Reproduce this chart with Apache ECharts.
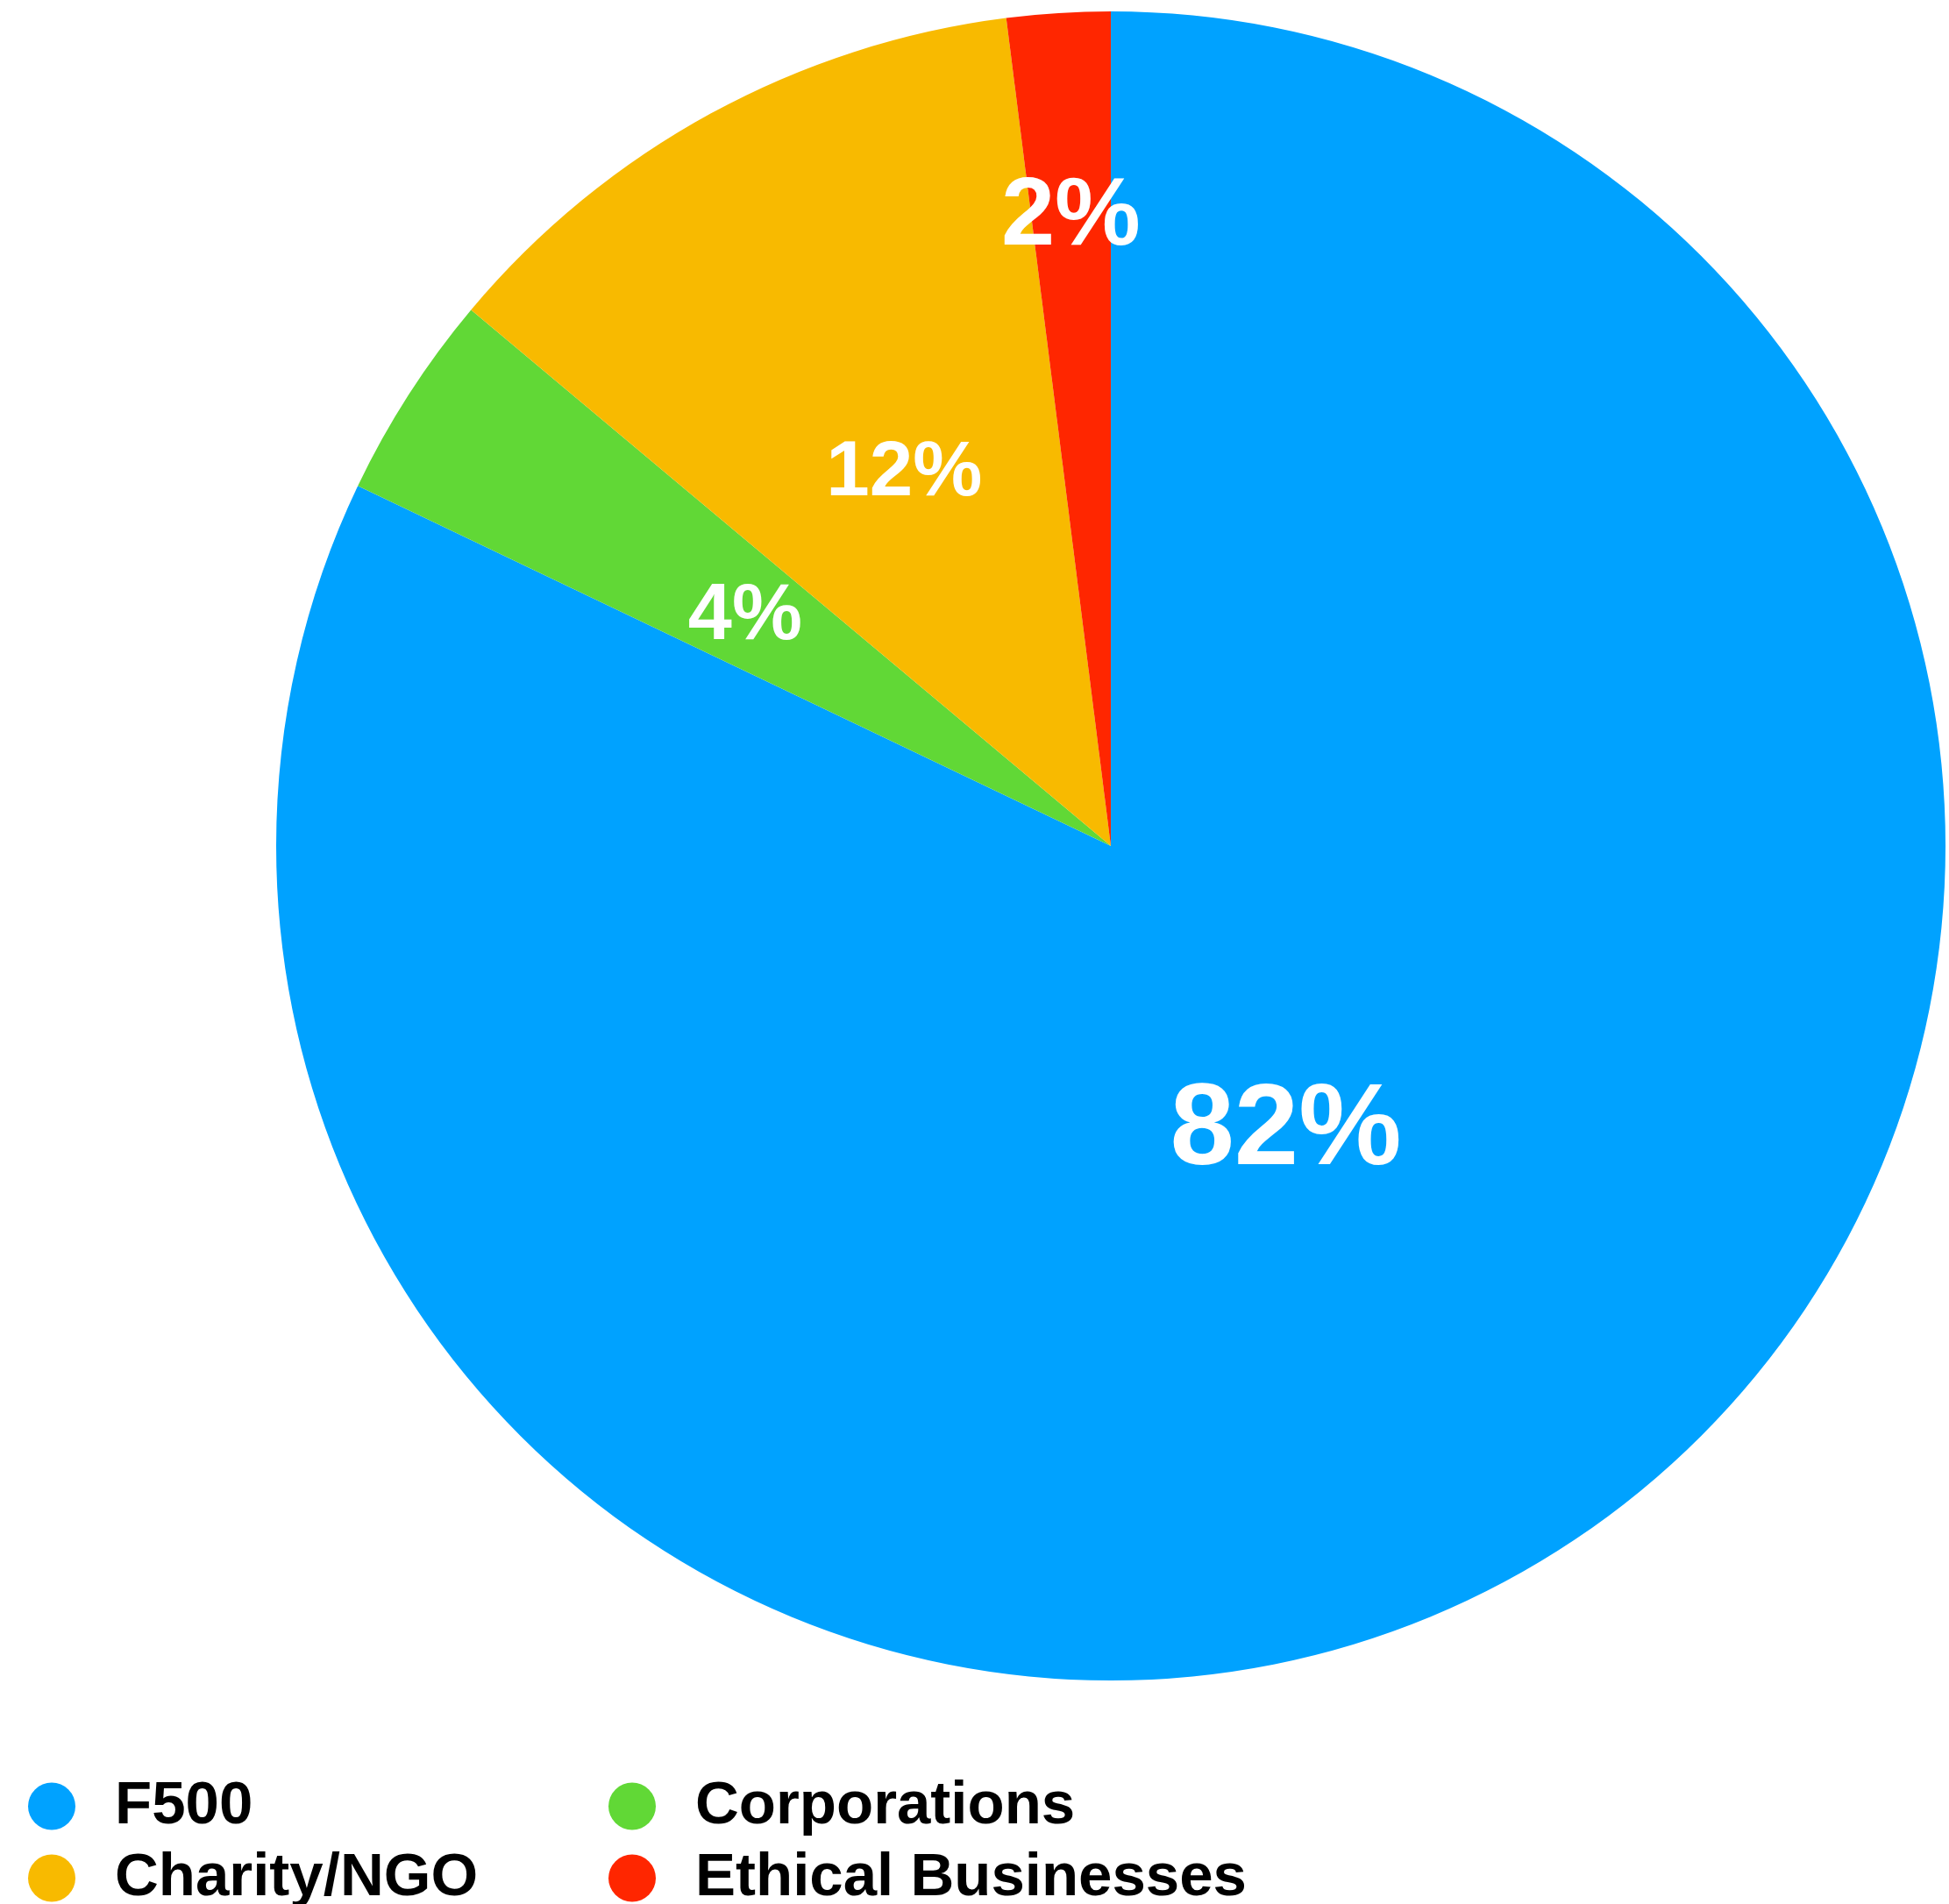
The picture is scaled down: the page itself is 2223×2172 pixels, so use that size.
<!DOCTYPE html>
<html>
<head>
<meta charset="utf-8">
<script src="https://cdn.jsdelivr.net/npm/echarts@6/dist/echarts.min.js"></script>
<style>
  html, body { margin: 0; padding: 0; background: #fff; }
  #chart { width: 2223px; height: 2172px; }
</style>
</head>
<body>
<div id="chart"></div>
<script>
  // slice data, clockwise from 12 o'clock
  var categories = ['F500', 'Corporations', 'Charity/NGO', 'Ethical Businesses'];
  var values = [82.1, 4.0, 11.9, 2.0];
  var colors = ['#00A2FF', '#61D836', '#F8BA00', '#FF2600'];

  // label look per slice (keynote style)
  var labelSize = [132, 90, 89, 110];
  var labelDist = [0.393, 0.521, 0.517, 0.763];   // fraction of radius

  var cx = 1267, cy = 965, radius = 952;
  var font = '"Helvetica Neue", "Liberation Sans", Arial, sans-serif';

  var total = values.reduce(function (a, b) { return a + b; }, 0);
  var midAngles = [];
  var acc = 0;
  values.forEach(function (v) {
    midAngles.push((acc + v / 2) / total * Math.PI * 2);
    acc += v;
  });

  var myChart = echarts.init(document.getElementById('chart'));

  // legend grid: 2 columns x 2 rows, one legend box per entry
  var legendCols = [32, 694];
  var legendRows = [2026, 2108];
  var legends = categories.map(function (name, i) {
    return {
      data: [name],
      left: legendCols[i % 2],
      top: legendRows[Math.floor(i / 2)],
      padding: 0,
      icon: 'circle',
      itemWidth: 54,
      itemHeight: 54,
      selectedMode: false,
      textStyle: {
        fontFamily: font,
        fontWeight: 'bold',
        fontSize: 69,
        color: '#000',
        lineHeight: 54,
        padding: [0, 0, 0, 40]
      }
    };
  });

  myChart.setOption({
    backgroundColor: '#fff',
    color: colors,
    animation: false,
    legend: legends,
    series: [{
      type: 'pie',
      center: [cx, cy],
      radius: radius,
      startAngle: 90,
      clockwise: true,
      avoidLabelOverlap: false,
      label: {
        show: true,
        position: 'inside',
        color: '#fff',
        fontFamily: font,
        fontWeight: 'bold',
        align: 'center',
        verticalAlign: 'middle',
        formatter: function (p) { return Math.round(p.percent) + '%'; }
      },
      labelLine: { show: false },
      labelLayout: function (p) {
        var i = p.dataIndex;
        var a = midAngles[i];
        var d = radius * labelDist[i];
        return {
          x: cx + d * Math.sin(a),
          y: cy - d * Math.cos(a) + labelSize[i] * 0.08
        };
      },
      emphasis: { disabled: true },
      data: categories.map(function (name, i) {
        return { name: name, value: values[i], label: { fontSize: labelSize[i] } };
      })
    }]
  });
</script>
</body>
</html>
